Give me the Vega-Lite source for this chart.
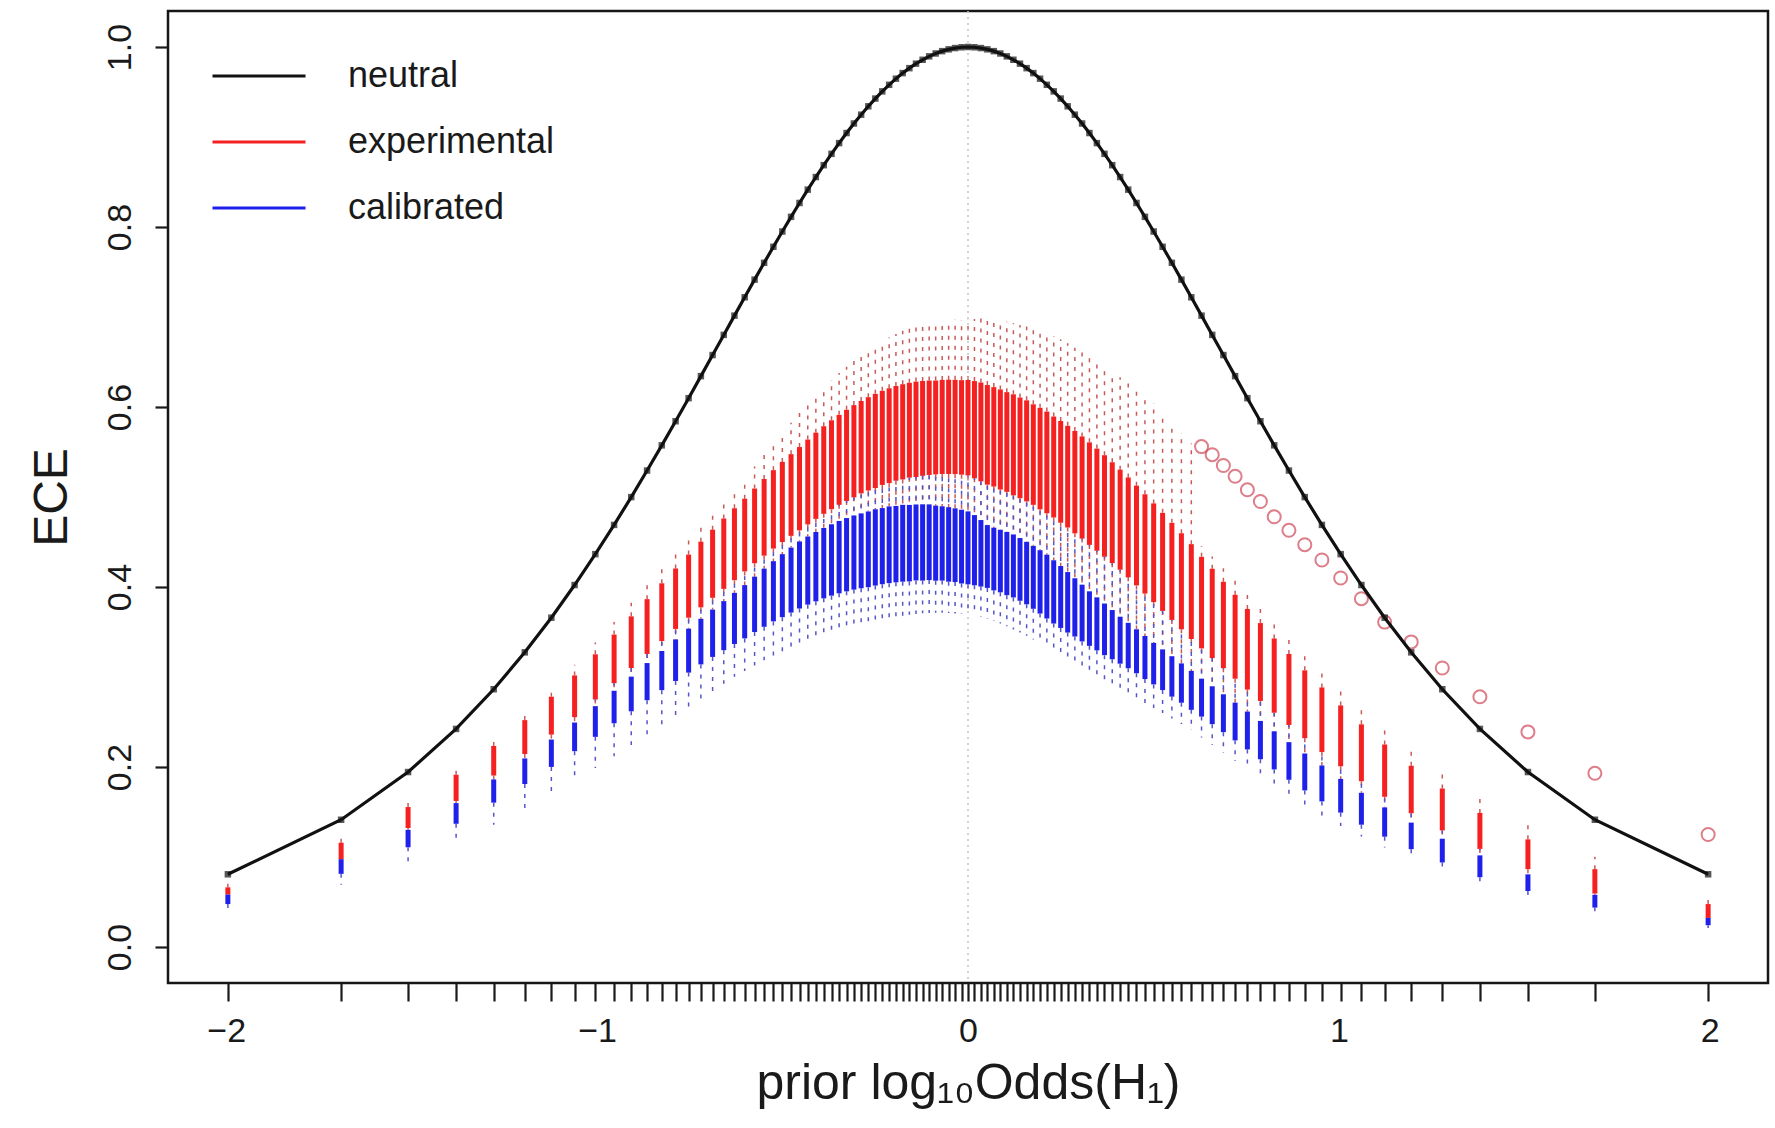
{
  "$schema": "https://vega.github.io/schema/vega-lite/v6.json",
  "width": 1600,
  "height": 972,
  "autosize": {"type": "none"},
  "padding": {"left": 168, "top": 11, "right": 7, "bottom": 145},
  "background": "white",
  "config": {
    "font": "Liberation Sans",
    "view": {"stroke": "#161616", "strokeWidth": 2.5},
    "axis": {"grid": false, "domain": false, "tickColor": "#1a1a1a", "labelColor": "#1a1a1a", "titleColor": "#1a1a1a", "labelFont": "Liberation Sans", "titleFont": "Liberation Sans", "titleFontWeight": "normal"}
  },
  "datasets": {
    "d": [
      {"x":-1.9956,"n":0.0808,"ru":0.0703,"r3":0.0663,"r1":0.0582,"b3":0.0582,"b1":0.0477,"bl":0.0404},
      {"x":-1.6902,"n":0.1414,"ru":0.1216,"r3":0.1159,"r1":0.0976,"b3":0.0976,"b1":0.0813,"bl":0.0693},
      {"x":-1.5097,"n":0.1944,"ru":0.1633,"r3":0.1555,"r1":0.1322,"b3":0.1302,"b1":0.1108,"bl":0.0943},
      {"x":-1.3802,"n":0.2423,"ru":0.1987,"r3":0.1914,"r1":0.1623,"b3":0.1599,"b1":0.1369,"bl":0.1163},
      {"x":-1.2788,"n":0.2864,"ru":0.2320,"r3":0.2234,"r1":0.1905,"b3":0.1862,"b1":0.1604,"bl":0.1358},
      {"x":-1.1950,"n":0.3274,"ru":0.2619,"r3":0.2521,"r1":0.2144,"b3":0.2095,"b1":0.1811,"bl":0.1532},
      {"x":-1.1234,"n":0.3659,"ru":0.2891,"r3":0.2781,"r1":0.2360,"b3":0.2305,"b1":0.2001,"bl":0.1698},
      {"x":-1.0607,"n":0.4022,"ru":0.3137,"r3":0.3017,"r1":0.2554,"b3":0.2494,"b1":0.2176,"bl":0.1850},
      {"x":-1.0048,"n":0.4365,"ru":0.3383,"r3":0.3252,"r1":0.2750,"b3":0.2676,"b1":0.2335,"bl":0.1990},
      {"x":-0.9542,"n":0.4690,"ru":0.3611,"r3":0.3471,"r1":0.2931,"b3":0.2847,"b1":0.2486,"bl":0.2120},
      {"x":-0.9080,"n":0.4999,"ru":0.3824,"r3":0.3674,"r1":0.3099,"b3":0.3004,"b1":0.2619,"bl":0.2245},
      {"x":-0.8653,"n":0.5294,"ru":0.4023,"r3":0.3865,"r1":0.3256,"b3":0.3155,"b1":0.2742,"bl":0.2361},
      {"x":-0.8256,"n":0.5574,"ru":0.4208,"r3":0.4041,"r1":0.3400,"b3":0.3289,"b1":0.2854,"bl":0.2469},
      {"x":-0.7884,"n":0.5842,"ru":0.4382,"r3":0.4206,"r1":0.3534,"b3":0.3418,"b1":0.2956,"bl":0.2570},
      {"x":-0.7533,"n":0.6098,"ru":0.4543,"r3":0.4360,"r1":0.3659,"b3":0.3537,"b1":0.3049,"bl":0.2665},
      {"x":-0.7202,"n":0.6343,"ru":0.4694,"r3":0.4504,"r1":0.3774,"b3":0.3647,"b1":0.3140,"bl":0.2759},
      {"x":-0.6886,"n":0.6577,"ru":0.4834,"r3":0.4637,"r1":0.3880,"b3":0.3749,"b1":0.3223,"bl":0.2841},
      {"x":-0.6585,"n":0.6801,"ru":0.4965,"r3":0.4761,"r1":0.3979,"b3":0.3843,"b1":0.3298,"bl":0.2924},
      {"x":-0.6297,"n":0.7015,"ru":0.5086,"r3":0.4875,"r1":0.4076,"b3":0.3935,"b1":0.3367,"bl":0.3002},
      {"x":-0.6021,"n":0.7219,"ru":0.5198,"r3":0.4981,"r1":0.4173,"b3":0.4021,"b1":0.3429,"bl":0.3068},
      {"x":-0.5754,"n":0.7415,"ru":0.5339,"r3":0.5094,"r1":0.4264,"b3":0.4115,"b1":0.3500,"bl":0.3129},
      {"x":-0.5497,"n":0.7602,"ru":0.5473,"r3":0.5200,"r1":0.4348,"b3":0.4204,"b1":0.3558,"bl":0.3185},
      {"x":-0.5247,"n":0.7780,"ru":0.5594,"r3":0.5298,"r1":0.4427,"b3":0.4287,"b1":0.3618,"bl":0.3236},
      {"x":-0.5006,"n":0.7950,"ru":0.5716,"r3":0.5390,"r1":0.4500,"b3":0.4365,"b1":0.3665,"bl":0.3283},
      {"x":-0.4771,"n":0.8113,"ru":0.5825,"r3":0.5476,"r1":0.4568,"b3":0.4438,"b1":0.3716,"bl":0.3326},
      {"x":-0.4543,"n":0.8267,"ru":0.5936,"r3":0.5555,"r1":0.4630,"b3":0.4506,"b1":0.3761,"bl":0.3365},
      {"x":-0.4320,"n":0.8415,"ru":0.6034,"r3":0.5638,"r1":0.4696,"b3":0.4561,"b1":0.3804,"bl":0.3400},
      {"x":-0.4102,"n":0.8555,"ru":0.6134,"r3":0.5715,"r1":0.4757,"b3":0.4611,"b1":0.3841,"bl":0.3431},
      {"x":-0.3889,"n":0.8687,"ru":0.6220,"r3":0.5786,"r1":0.4813,"b3":0.4656,"b1":0.3874,"bl":0.3457},
      {"x":-0.3680,"n":0.8813,"ru":0.6301,"r3":0.5852,"r1":0.4865,"b3":0.4697,"b1":0.3904,"bl":0.3490},
      {"x":-0.3475,"n":0.8932,"ru":0.6377,"r3":0.5913,"r1":0.4913,"b3":0.4734,"b1":0.3930,"bl":0.3519},
      {"x":-0.3274,"n":0.9044,"ru":0.6448,"r3":0.5969,"r1":0.4956,"b3":0.4766,"b1":0.3952,"bl":0.3545},
      {"x":-0.3076,"n":0.9150,"ru":0.6515,"r3":0.6021,"r1":0.4996,"b3":0.4795,"b1":0.3971,"bl":0.3569},
      {"x":-0.2881,"n":0.9248,"ru":0.6575,"r3":0.6067,"r1":0.5040,"b3":0.4818,"b1":0.3986,"bl":0.3588},
      {"x":-0.2688,"n":0.9341,"ru":0.6632,"r3":0.6109,"r1":0.5072,"b3":0.4839,"b1":0.3998,"bl":0.3606},
      {"x":-0.2499,"n":0.9427,"ru":0.6684,"r3":0.6146,"r1":0.5100,"b3":0.4864,"b1":0.4016,"bl":0.3620},
      {"x":-0.2311,"n":0.9507,"ru":0.6731,"r3":0.6180,"r1":0.5134,"b3":0.4877,"b1":0.4031,"bl":0.3641},
      {"x":-0.2126,"n":0.9580,"ru":0.6773,"r3":0.6208,"r1":0.5154,"b3":0.4895,"b1":0.4043,"bl":0.3650},
      {"x":-0.1943,"n":0.9648,"ru":0.6811,"r3":0.6233,"r1":0.5181,"b3":0.4901,"b1":0.4052,"bl":0.3666},
      {"x":-0.1761,"n":0.9710,"ru":0.6846,"r3":0.6253,"r1":0.5195,"b3":0.4913,"b1":0.4059,"bl":0.3680},
      {"x":-0.1581,"n":0.9765,"ru":0.6875,"r3":0.6269,"r1":0.5215,"b3":0.4912,"b1":0.4062,"bl":0.3691},
      {"x":-0.1402,"n":0.9815,"ru":0.6900,"r3":0.6282,"r1":0.5222,"b3":0.4917,"b1":0.4073,"bl":0.3700},
      {"x":-0.1224,"n":0.9858,"ru":0.6920,"r3":0.6289,"r1":0.5235,"b3":0.4919,"b1":0.4071,"bl":0.3707},
      {"x":-0.1047,"n":0.9896,"ru":0.6937,"r3":0.6294,"r1":0.5245,"b3":0.4918,"b1":0.4077,"bl":0.3711},
      {"x":-0.0872,"n":0.9928,"ru":0.6950,"r3":0.6294,"r1":0.5252,"b3":0.4904,"b1":0.4070,"bl":0.3713},
      {"x":-0.0696,"n":0.9954,"ru":0.6958,"r3":0.6301,"r1":0.5256,"b3":0.4897,"b1":0.4071,"bl":0.3713},
      {"x":-0.0522,"n":0.9974,"ru":0.6962,"r3":0.6304,"r1":0.5256,"b3":0.4887,"b1":0.4059,"bl":0.3710},
      {"x":-0.0348,"n":0.9988,"ru":0.6972,"r3":0.6302,"r1":0.5254,"b3":0.4874,"b1":0.4055,"bl":0.3706},
      {"x":-0.0174,"n":0.9997,"ru":0.6968,"r3":0.6298,"r1":0.5248,"b3":0.4859,"b1":0.4039,"bl":0.3699},
      {"x":0,"n":1.0,"ru":0.6970,"r3":0.6300,"r1":0.5240,"b3":0.4840,"b1":0.4030,"bl":0.3700},
      {"x":0.0174,"n":0.9997,"ru":0.6978,"r3":0.6288,"r1":0.5208,"b3":0.4799,"b1":0.4019,"bl":0.3689},
      {"x":0.0348,"n":0.9988,"ru":0.6982,"r3":0.6272,"r1":0.5174,"b3":0.4744,"b1":0.4005,"bl":0.3666},
      {"x":0.0522,"n":0.9974,"ru":0.6972,"r3":0.6244,"r1":0.5137,"b3":0.4688,"b1":0.3990,"bl":0.3650},
      {"x":0.0696,"n":0.9954,"ru":0.6968,"r3":0.6221,"r1":0.5116,"b3":0.4659,"b1":0.3962,"bl":0.3623},
      {"x":0.0872,"n":0.9928,"ru":0.6960,"r3":0.6195,"r1":0.5083,"b3":0.4636,"b1":0.3941,"bl":0.3594},
      {"x":0.1047,"n":0.9896,"ru":0.6947,"r3":0.6165,"r1":0.5057,"b3":0.4612,"b1":0.3909,"bl":0.3563},
      {"x":0.1224,"n":0.9858,"ru":0.6930,"r3":0.6141,"r1":0.5018,"b3":0.4584,"b1":0.3884,"bl":0.3529},
      {"x":0.1402,"n":0.9815,"ru":0.6910,"r3":0.6105,"r1":0.4986,"b3":0.4544,"b1":0.3847,"bl":0.3494},
      {"x":0.1581,"n":0.9765,"ru":0.6894,"r3":0.6074,"r1":0.4951,"b3":0.4502,"b1":0.3808,"bl":0.3457},
      {"x":0.1761,"n":0.9710,"ru":0.6875,"r3":0.6030,"r1":0.4913,"b3":0.4457,"b1":0.3758,"bl":0.3418},
      {"x":0.1943,"n":0.9648,"ru":0.6850,"r3":0.5991,"r1":0.4863,"b3":0.4409,"b1":0.3705,"bl":0.3377},
      {"x":0.2126,"n":0.9580,"ru":0.6821,"r3":0.5949,"r1":0.4819,"b3":0.4359,"b1":0.3650,"bl":0.3334},
      {"x":0.2311,"n":0.9507,"ru":0.6788,"r3":0.5894,"r1":0.4772,"b3":0.4297,"b1":0.3594,"bl":0.3289},
      {"x":0.2499,"n":0.9427,"ru":0.6750,"r3":0.5845,"r1":0.4714,"b3":0.4233,"b1":0.3545,"bl":0.3243},
      {"x":0.2688,"n":0.9341,"ru":0.6707,"r3":0.5791,"r1":0.4661,"b3":0.4166,"b1":0.3494,"bl":0.3204},
      {"x":0.2881,"n":0.9248,"ru":0.6659,"r3":0.5734,"r1":0.4596,"b3":0.4097,"b1":0.3450,"bl":0.3163},
      {"x":0.3076,"n":0.9150,"ru":0.6606,"r3":0.5673,"r1":0.4538,"b3":0.4026,"b1":0.3395,"bl":0.3111},
      {"x":0.3274,"n":0.9044,"ru":0.6557,"r3":0.5607,"r1":0.4468,"b3":0.3952,"b1":0.3346,"bl":0.3066},
      {"x":0.3475,"n":0.8932,"ru":0.6502,"r3":0.5538,"r1":0.4403,"b3":0.3885,"b1":0.3296,"bl":0.3019},
      {"x":0.3680,"n":0.8813,"ru":0.6442,"r3":0.5464,"r1":0.4336,"b3":0.3816,"b1":0.3243,"bl":0.2970},
      {"x":0.3889,"n":0.8687,"ru":0.6385,"r3":0.5386,"r1":0.4265,"b3":0.3744,"b1":0.3197,"bl":0.2919},
      {"x":0.4102,"n":0.8555,"ru":0.6331,"r3":0.5304,"r1":0.4192,"b3":0.3670,"b1":0.3148,"bl":0.2866},
      {"x":0.4320,"n":0.8415,"ru":0.6269,"r3":0.5217,"r1":0.4107,"b3":0.3602,"b1":0.3097,"bl":0.2811},
      {"x":0.4543,"n":0.8267,"ru":0.6200,"r3":0.5126,"r1":0.4018,"b3":0.3530,"b1":0.3042,"bl":0.2761},
      {"x":0.4771,"n":0.8113,"ru":0.6125,"r3":0.5030,"r1":0.3927,"b3":0.3456,"b1":0.2977,"bl":0.2710},
      {"x":0.5006,"n":0.7950,"ru":0.6042,"r3":0.4929,"r1":0.3832,"b3":0.3379,"b1":0.2918,"bl":0.2655},
      {"x":0.5247,"n":0.7780,"ru":0.5936,"r3":0.4824,"r1":0.3734,"b3":0.3307,"b1":0.2855,"bl":0.2599},
      {"x":0.5497,"n":0.7602,"ru":0.5823,"r3":0.4713,"r1":0.3634,"b3":0.3231,"b1":0.2782,"bl":0.2539},
      {"x":0.5754,"n":0.7415,"ru":0.5710,"r3":0.4597,"r1":0.3530,"b3":0.3151,"b1":0.2714,"bl":0.2477},
      {"x":0.6021,"n":0.7219,"ru":0.5595,"r3":0.4476,"r1":0.3422,"b3":0.3068,"b1":0.2635,"bl":0.2411},
      {"x":0.6297,"n":0.7015,"ru":0.4455,"r3":0.4335,"r1":0.3318,"b3":0.2981,"b1":0.2560,"bl":0.2329},
      {"x":0.6585,"n":0.6801,"ru":0.4339,"r3":0.4203,"r1":0.3210,"b3":0.2897,"b1":0.2476,"bl":0.2244},
      {"x":0.6886,"n":0.6577,"ru":0.4209,"r3":0.4058,"r1":0.3098,"b3":0.2808,"b1":0.2387,"bl":0.2157},
      {"x":0.7202,"n":0.6343,"ru":0.4072,"r3":0.3914,"r1":0.2981,"b3":0.2715,"b1":0.2296,"bl":0.2068},
      {"x":0.7533,"n":0.6098,"ru":0.3933,"r3":0.3756,"r1":0.2860,"b3":0.2616,"b1":0.2195,"bl":0.1976},
      {"x":0.7884,"n":0.5842,"ru":0.3786,"r3":0.3599,"r1":0.2734,"b3":0.2512,"b1":0.2086,"bl":0.1881},
      {"x":0.8256,"n":0.5574,"ru":0.3629,"r3":0.3428,"r1":0.2603,"b3":0.2397,"b1":0.1973,"bl":0.1784},
      {"x":0.8653,"n":0.5294,"ru":0.3468,"r3":0.3256,"r1":0.2467,"b3":0.2276,"b1":0.1858,"bl":0.1678},
      {"x":0.9080,"n":0.4999,"ru":0.3289,"r3":0.3074,"r1":0.2320,"b3":0.2150,"b1":0.1740,"bl":0.1570},
      {"x":0.9542,"n":0.4690,"ru":0.3100,"r3":0.2884,"r1":0.2167,"b3":0.2017,"b1":0.1618,"bl":0.1459},
      {"x":1.0048,"n":0.4365,"ru":0.2903,"r3":0.2684,"r1":0.2008,"b3":0.1868,"b1":0.1493,"bl":0.1344},
      {"x":1.0607,"n":0.4022,"ru":0.2687,"r3":0.2474,"r1":0.1842,"b3":0.1713,"b1":0.1359,"bl":0.1227},
      {"x":1.1234,"n":0.3659,"ru":0.2470,"r3":0.2250,"r1":0.1669,"b3":0.1551,"b1":0.1226,"bl":0.1105},
      {"x":1.1950,"n":0.3274,"ru":0.2233,"r3":0.2014,"r1":0.1486,"b3":0.1382,"b1":0.1087,"bl":0.0979},
      {"x":1.2788,"n":0.2864,"ru":0.1970,"r3":0.1761,"r1":0.1295,"b3":0.1203,"b1":0.0939,"bl":0.0845},
      {"x":1.3802,"n":0.2423,"ru":0.1696,"r3":0.1490,"r1":0.1090,"b3":0.1018,"b1":0.0775,"bl":0.0703},
      {"x":1.5097,"n":0.1944,"ru":0.1380,"r3":0.1196,"r1":0.0865,"b3":0.0807,"b1":0.0622,"bl":0.0558},
      {"x":1.6902,"n":0.1414,"ru":0.1004,"r3":0.0865,"r1":0.0594,"b3":0.0580,"b1":0.0438,"bl":0.0396},
      {"x":1.9956,"n":0.0808,"ru":0.0582,"r3":0.0477,"r1":0.0323,"b3":0.0323,"b1":0.0242,"bl":0.0210}
    ],
    "o": [
      {"x":0.6297,"v":0.556},{"x":0.6585,"v":0.547},{"x":0.6886,"v":0.535},{"x":0.7202,"v":0.523},
      {"x":0.7533,"v":0.508},{"x":0.7884,"v":0.495},{"x":0.8256,"v":0.478},{"x":0.8653,"v":0.463},
      {"x":0.9080,"v":0.447},{"x":0.9542,"v":0.430},{"x":1.0048,"v":0.410},{"x":1.0607,"v":0.387},
      {"x":1.1234,"v":0.361},{"x":1.1950,"v":0.339},{"x":1.2788,"v":0.310},{"x":1.3802,"v":0.278},
      {"x":1.5097,"v":0.239},{"x":1.6902,"v":0.193},{"x":1.9956,"v":0.125}
    ]
  },
  "layer": [
    {
      "data": {"name": "d"},
      "mark": {"type": "rule", "stroke": "#c85a5a", "strokeWidth": 1.5, "strokeDash": [4, 6]},
      "encoding": {
        "x": {
          "field": "x", "type": "quantitative",
          "scale": {"domain": [-2.157, 2.157], "nice": false, "zero": false},
          "axis": {
            "title": "prior log₁₀Odds(H₁)",
            "titleFontSize": 50, "titleY": 115, "titleBaseline": "alphabetic", "titleAlign": "center",
            "tickCount": 500,
            "values": [-2,-1.9956,-1.6902,-1.5097,-1.3802,-1.2788,-1.195,-1.1234,-1.0607,-1.0048,-1,-0.9542,-0.908,-0.8653,-0.8256,-0.7884,-0.7533,-0.7202,-0.6886,-0.6585,-0.6297,-0.6021,-0.5754,-0.5497,-0.5247,-0.5006,-0.4771,-0.4543,-0.432,-0.4102,-0.3889,-0.368,-0.3475,-0.3274,-0.3076,-0.2881,-0.2688,-0.2499,-0.2311,-0.2126,-0.1943,-0.1761,-0.1581,-0.1402,-0.1224,-0.1047,-0.0872,-0.0696,-0.0522,-0.0348,-0.0174,0,0.0174,0.0348,0.0522,0.0696,0.0872,0.1047,0.1224,0.1402,0.1581,0.1761,0.1943,0.2126,0.2311,0.2499,0.2688,0.2881,0.3076,0.3274,0.3475,0.368,0.3889,0.4102,0.432,0.4543,0.4771,0.5006,0.5247,0.5497,0.5754,0.6021,0.6297,0.6585,0.6886,0.7202,0.7533,0.7884,0.8256,0.8653,0.908,0.9542,1,1.0048,1.0607,1.1234,1.195,1.2788,1.3802,1.5097,1.6902,1.9956,2],
            "labelExpr": "(abs(datum.value) == 1 || abs(datum.value) == 2 || datum.value == 0) ? format(datum.value, 'd') : ''",
            "labelOverlap": false, "labelFlush": false, "labelFontSize": 34, "labelPadding": 13,
            "tickSize": 18, "tickWidth": 2.2,
            "tickOpacity": {"condition": {"test": "abs(datum.value) == 1 || abs(datum.value) == 2", "value": 0}, "value": 1}
          }
        },
        "y": {
          "field": "r3", "type": "quantitative",
          "scale": {"domain": [-0.04, 1.04], "nice": false, "zero": false},
          "axis": {
            "title": "ECE", "titleFontSize": 48, "titleAngle": -90, "titleX": -102, "titleY": 486,
            "titleBaseline": "alphabetic", "titleAlign": "center",
            "values": [0, 0.2, 0.4, 0.6, 0.8, 1.0], "format": ".1f",
            "labelAngle": -90, "labelAlign": "center", "labelBaseline": "alphabetic",
            "labelFontSize": 34, "labelPadding": 25, "tickSize": 13, "tickWidth": 2.2
          }
        },
        "y2": {"field": "ru"}
      }
    },
    {
      "data": {"values": [{}]},
      "mark": {"type": "rule", "stroke": "#c4c4c4", "strokeWidth": 1.5, "strokeDash": [2, 4]},
      "encoding": {"x": {"datum": 0, "type": "quantitative"}}
    },
    {
      "data": {"name": "d"},
      "mark": {"type": "rule", "stroke": "#c85a5a", "strokeWidth": 1.5, "strokeDash": [4, 6]},
      "encoding": {
        "x": {"field": "x", "type": "quantitative"},
        "y": {"field": "r1", "type": "quantitative"},
        "y2": {"field": "b3"}
      }
    },
    {
      "data": {"name": "d"},
      "mark": {"type": "rule", "strokeWidth": 5, "strokeCap": "butt"},
      "encoding": {
        "x": {"field": "x", "type": "quantitative"},
        "y": {"field": "r1", "type": "quantitative"},
        "y2": {"field": "r3"},
        "color": {"datum": "experimental", "type": "nominal"}
      }
    },
    {
      "data": {"name": "d"},
      "mark": {"type": "rule", "stroke": "#5656c8", "strokeWidth": 1.5, "strokeDash": [4, 6], "strokeDashOffset": 5},
      "encoding": {
        "x": {"field": "x", "type": "quantitative"},
        "y": {"field": "b3", "type": "quantitative"},
        "y2": {"field": "r1"}
      }
    },
    {
      "data": {"name": "d"},
      "mark": {"type": "rule", "stroke": "#5656c8", "strokeWidth": 1.5, "strokeDash": [4, 6]},
      "encoding": {
        "x": {"field": "x", "type": "quantitative"},
        "y": {"field": "b1", "type": "quantitative"},
        "y2": {"field": "bl"}
      }
    },
    {
      "data": {"name": "d"},
      "mark": {"type": "rule", "strokeWidth": 5, "strokeCap": "butt"},
      "encoding": {
        "x": {"field": "x", "type": "quantitative"},
        "y": {"field": "b1", "type": "quantitative"},
        "y2": {"field": "b3"},
        "color": {"datum": "calibrated", "type": "nominal"}
      }
    },
    {
      "data": {"name": "o"},
      "mark": {"type": "point", "shape": "circle", "filled": false, "size": 170, "stroke": "#d04858", "strokeWidth": 2},
      "encoding": {
        "x": {"field": "x", "type": "quantitative"},
        "y": {"field": "v", "type": "quantitative"}
      }
    },
    {
      "data": {"name": "d"},
      "mark": {"type": "line", "strokeWidth": 3.2},
      "encoding": {
        "x": {"field": "x", "type": "quantitative"},
        "y": {"field": "n", "type": "quantitative"},
        "color": {
          "datum": "neutral", "type": "nominal",
          "scale": {"domain": ["neutral", "experimental", "calibrated"], "range": ["#111111", "#f52020", "#2020eb"]},
          "legend": {
            "title": null, "orient": "none", "legendX": 43, "legendY": 17, "padding": 0,
            "symbolType": "stroke", "symbolSize": 8649, "symbolStrokeWidth": 3,
            "labelFont": "Liberation Sans", "labelFontSize": 36, "labelColor": "#1a1a1a", "labelLimit": 500,
            "labelOffset": 41, "rowPadding": -30
          }
        }
      }
    },
    {
      "data": {"name": "d"},
      "mark": {"type": "point", "shape": "square", "filled": true, "size": 42, "color": "#111111"},
      "encoding": {
        "x": {"field": "x", "type": "quantitative"},
        "y": {"field": "n", "type": "quantitative"}
      }
    }
  ]
}
